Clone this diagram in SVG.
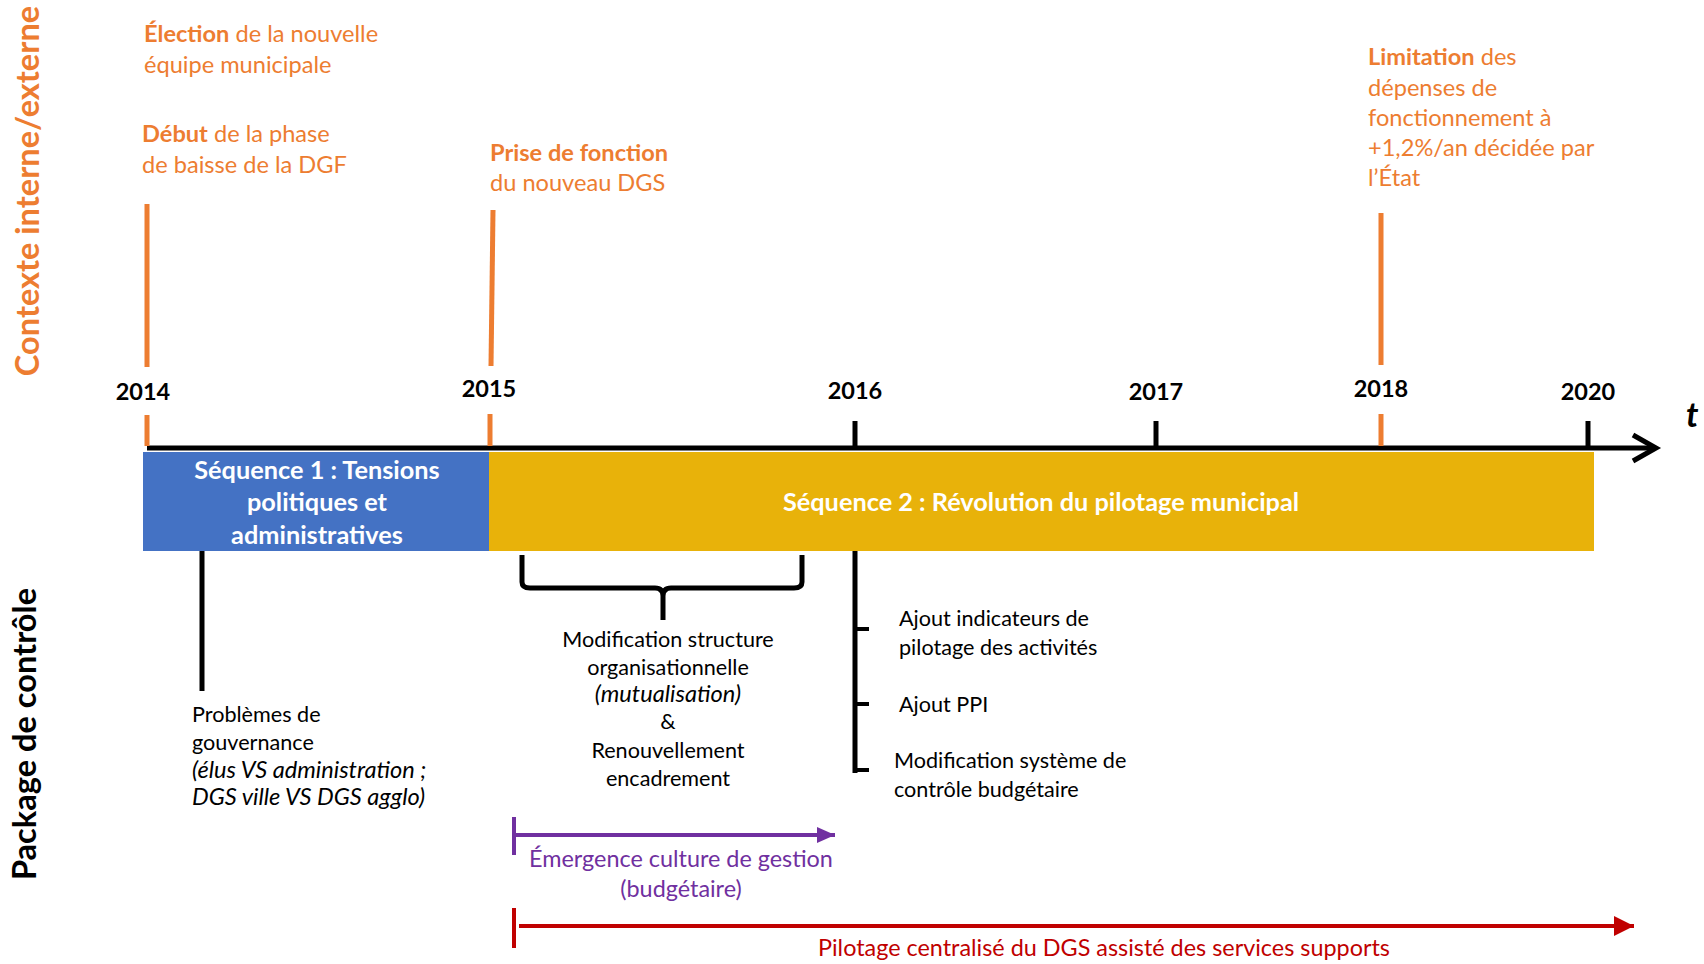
<svg xmlns="http://www.w3.org/2000/svg" width="1704" height="964" viewBox="0 0 1704 964">
<defs>
<style>
text{font-family:Lato,"Liberation Sans",sans-serif}
.or{fill:#ED7D31;font-size:23.6px}
.b{font-weight:bold}
.yr{font-size:23.5px;font-weight:bold;fill:#000;text-anchor:middle}
.blk{font-size:21.6px;fill:#000}
.blk.i{font-style:italic;font-size:23.6px}
.blk.big{font-size:23.4px}
.seq{font-size:25.3px;font-weight:bold;fill:#fff;text-anchor:middle}
.side{font-size:32.6px;font-weight:bold;text-anchor:middle}
.ol{stroke:#ED7D31;stroke-width:5;fill:none}
.kl{stroke:#000;stroke-width:5;fill:none}
</style>
<marker id="mp" markerUnits="userSpaceOnUse" markerWidth="20" markerHeight="18" refX="18" refY="8" orient="auto" viewBox="0 0 20 16"><path d="M0,0 L18,8 L0,16 Z" fill="#7030A0"/></marker>
<marker id="mr" markerUnits="userSpaceOnUse" markerWidth="22" markerHeight="20" refX="20" refY="10" orient="auto" viewBox="0 0 22 20"><path d="M0,0 L20,10 L0,20 Z" fill="#C00000"/></marker>
</defs>
<rect width="1704" height="964" fill="#fff"/>

<g id="side-labels">
<text class="side" fill="#ED7D31" transform="translate(39,191) rotate(-90)">Contexte interne/externe</text>
<text class="side" fill="#000" transform="translate(36,734) rotate(-90)">Package de contrôle</text>
</g>

<g id="connectors">
<line class="ol" x1="147" y1="204" x2="147" y2="367"/>
<line class="ol" x1="493" y1="210" x2="491" y2="366"/>
<line class="ol" x1="1381" y1="213" x2="1381" y2="365"/>
<line class="kl" x1="147" y1="448" x2="1652" y2="448"/>
<polyline class="kl" points="1633,435 1656,448 1633,461" stroke-linejoin="miter"/>
<line class="ol" x1="147" y1="415" x2="147" y2="446"/>
<line class="ol" x1="490" y1="414" x2="490" y2="446"/>
<line class="ol" x1="1381" y1="414" x2="1381" y2="446"/>
<line class="kl" x1="855" y1="421" x2="855" y2="450"/>
<line class="kl" x1="1156" y1="421" x2="1156" y2="450"/>
<line class="kl" x1="1588" y1="421" x2="1588" y2="450"/>
<line class="kl" x1="202" y1="551" x2="202" y2="691"/>
<path class="kl" d="M522,555 L522,582 Q522,588 530,588 L655,588 Q663,588 663,596 L663,620 M663,620 L663,596 Q663,588 671,588 L794,588 Q802,588 802,582 L802,555"/>
<line class="kl" x1="855" y1="551" x2="855" y2="773"/>
<line stroke="#000" stroke-width="4" x1="855" y1="629" x2="869" y2="629"/>
<line stroke="#000" stroke-width="4" x1="855" y1="704" x2="869" y2="704"/>
<line stroke="#000" stroke-width="4" x1="855" y1="770" x2="869" y2="770"/>
<line stroke="#7030A0" stroke-width="4" x1="514" y1="817" x2="514" y2="855"/>
<line stroke="#7030A0" stroke-width="4" x1="514" y1="835" x2="835" y2="835" marker-end="url(#mp)"/>
<line stroke="#C00000" stroke-width="4" x1="514" y1="908" x2="514" y2="948"/>
<line stroke="#C00000" stroke-width="4" x1="519" y1="926" x2="1634" y2="926" marker-end="url(#mr)"/>
</g>

<g id="ev-election">
<text class="or" x="144" y="42"><tspan class="b">Élection</tspan> de la nouvelle</text>
<text class="or" x="144" y="73">équipe municipale</text>
</g>
<g id="ev-dgf">
<text class="or" x="142" y="142"><tspan class="b">Début</tspan> de la phase</text>
<text class="or" x="142" y="173">de baisse de la DGF</text>
</g>
<g id="ev-dgs">
<text class="or" x="490" y="161"><tspan class="b">Prise de fonction</tspan></text>
<text class="or" x="490" y="191">du nouveau DGS</text>
</g>
<g id="ev-limitation">
<text class="or" x="1368" y="65"><tspan class="b">Limitation</tspan> des</text>
<text class="or" x="1368" y="96">dépenses de</text>
<text class="or" x="1368" y="126">fonctionnement à</text>
<text class="or" x="1368" y="156">+1,2%/an décidée par</text>
<text class="or" x="1368" y="186">l’État</text>
</g>

<g id="years">
<text class="yr" x="143" y="400">2014</text>
<text class="yr" x="489" y="397">2015</text>
<text class="yr" x="855" y="399">2016</text>
<text class="yr" x="1156" y="400">2017</text>
<text class="yr" x="1381" y="397">2018</text>
<text class="yr" x="1588" y="400">2020</text>
<text x="1686" y="427" font-size="34" font-weight="bold" font-style="italic" fill="#000">t</text>
</g>

<g id="seq1">
<rect x="143" y="452" width="346" height="99" fill="#4472C4"/>
<text class="seq" x="317" y="479">Séquence 1 : Tensions</text>
<text class="seq" x="317" y="511">politiques et</text>
<text class="seq" x="317" y="544">administratives</text>
</g>
<g id="seq2">
<rect x="489" y="452" width="1105" height="99" fill="#E8B20A"/>
<text class="seq" x="1041" y="511">Séquence 2 : Révolution du pilotage municipal</text>
</g>

<g id="pc-gouvernance">
<text class="blk" x="192" y="722">Problèmes de</text>
<text class="blk" x="192" y="750">gouvernance</text>
<text class="blk i" x="192" y="778">(élus VS administration ;</text>
<text class="blk i" x="192" y="805">DGS ville VS DGS agglo)</text>
</g>
<g id="pc-structure" text-anchor="middle">
<text class="blk" x="668" y="647">Modification structure</text>
<text class="blk" x="668" y="675">organisationnelle</text>
<text class="blk i" x="668" y="702">(mutualisation)</text>
<text class="blk" x="668" y="729">&amp;</text>
<text class="blk" x="668" y="758">Renouvellement</text>
<text class="blk" x="668" y="786">encadrement</text>
</g>
<g id="pc-indicateurs">
<text class="blk" x="899" y="626">Ajout indicateurs de</text>
<text class="blk" x="899" y="655">pilotage des activités</text>
</g>
<g id="pc-ppi">
<text class="blk" x="899" y="712">Ajout PPI</text>
</g>
<g id="pc-budget">
<text class="blk" x="894" y="768">Modification système de</text>
<text class="blk" x="894" y="797">contrôle budgétaire</text>
</g>
<g id="culture" text-anchor="middle">
<text class="blk big" style="fill:#7030A0" x="681" y="867">Émergence culture de gestion</text>
<text class="blk big" style="fill:#7030A0" x="681" y="897">(budgétaire)</text>
</g>
<g id="pilotage">
<text class="blk big" style="fill:#C00000" text-anchor="middle" x="1104" y="956">Pilotage centralisé du DGS assisté des services supports</text>
</g>
</svg>
